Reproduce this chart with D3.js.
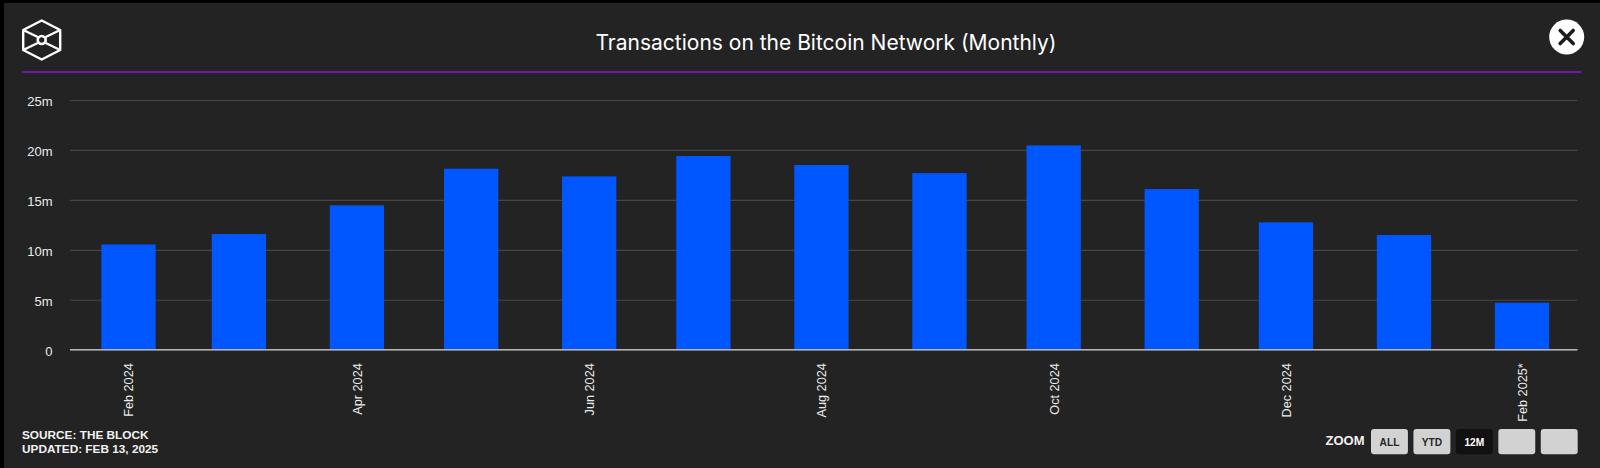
<!DOCTYPE html>
<html>
<head>
<meta charset="utf-8">
<title>Transactions on the Bitcoin Network (Monthly)</title>
<script src="https://cdn.jsdelivr.net/npm/d3@7"></script>
<style>
    html, body { margin: 0; padding: 0; background: #000; }
    svg { display: block; }
    .axisText { font-family: "Liberation Sans", Arial, sans-serif; fill: #ececec; }
    .footText { font-family: "Liberation Sans", Arial, sans-serif; font-weight: bold; }
</style>
</head>
<body>
<div id="chart"></div>
<script>
// values, in millions of transactions
const months = ['2024-02-01', '2024-03-01', '2024-04-01', '2024-05-01', '2024-06-01', '2024-07-01', '2024-08-01',
    '2024-09-01', '2024-10-01', '2024-11-01', '2024-12-01', '2025-01-01', '2025-02-01'];
const transactions = [10.54, 11.58, 14.45, 18.12, 17.35, 19.39, 18.49, 17.68, 20.45, 16.08, 12.75, 11.48, 4.70];

const xTickMonths = ['2024-02-01', '2024-04-01', '2024-06-01', '2024-08-01', '2024-10-01', '2024-12-01', '2025-02-01'];
const xTickLabels = ['Feb 2024', 'Apr 2024', 'Jun 2024', 'Aug 2024', 'Oct 2024', 'Dec 2024', 'Feb 2025*'];
const yTicks = [0, 5, 10, 15, 20, 25];
const yTickLabels = ['0', '5m', '10m', '15m', '20m', '25m'];

const zoomButtons = ['ALL', 'YTD', '12M', '', ''];
const activeZoom = '12M';
const sourceLines = ['SOURCE: THE BLOCK', 'UPDATED: FEB 13, 2025'];

const width = 1600;
const height = 468;
const plot = {left: 70, right: 1577.5, top: 100, bottom: 349.7};
const barWidth = 54.3;

const parseMonth = d3.utcParse('%Y-%m-%d');

const svg = d3.select('#chart').append('svg')
    .attr('width', width)
    .attr('height', height);

// black edge on the top and left of the screenshot, panel on top of it
svg.append('rect').attr('width', width).attr('height', height).attr('fill', '#000');
svg.append('rect').attr('x', 4).attr('y', 3).attr('width', width - 4).attr('height', height - 3).attr('fill', '#232323');

// Time scale, months have different lengths so the bars are not evenly spaced
const xScale = d3.scaleUtc()
    .domain([parseMonth(months[0]), parseMonth(months[months.length - 1])])
    .range([128.5, 1522]);

const yScale = d3.scaleLinear()
    .domain([0, 25])
    .range([plot.bottom, plot.top]);

const yAxis = d3.axisLeft(yScale)
    .tickValues(yTicks)
    .tickSize(plot.left - plot.right)
    .tickPadding(17.5)
    .tickFormat((d, i) => yTickLabels[i]);

const yGroup = svg.append('g')
    .attr('transform', `translate(${plot.left},0)`)
    .call(yAxis);
yGroup.select('.domain').remove();
yGroup.selectAll('.tick line')
    .attr('stroke', '#464646')
    .attr('stroke-width', 1.2);
yGroup.selectAll('.tick text')
    .attr('class', 'axisText')
    .attr('dy', '0.42em')
    .style('font-size', '13px');

svg.selectAll('.bar')
    .data(months)
    .enter()
    .append('rect')
    .attr('class', 'bar')
    .attr('x', d => xScale(parseMonth(d)) - barWidth / 2)
    .attr('width', barWidth)
    .attr('y', (d, i) => yScale(transactions[i]))
    .attr('height', (d, i) => yScale(0) - yScale(transactions[i]))
    .attr('fill', '#0057ff');

const xAxis = d3.axisBottom(xScale)
    .tickValues(xTickMonths.map(parseMonth))
    .tickSize(0)
    .tickFormat((d, i) => xTickLabels[i]);

const xGroup = svg.append('g')
    .attr('transform', `translate(0,${plot.bottom})`)
    .call(xAxis);
xGroup.select('.domain')
    .attr('d', `M${plot.left},0H${plot.right}`)
    .attr('stroke', '#b4b4b4')
    .attr('stroke-width', 1.4);
xGroup.selectAll('.tick text')
    .attr('class', 'axisText')
    .attr('transform', 'rotate(-90)')
    .attr('text-anchor', 'end')
    .attr('x', -13.5)
    .attr('y', 0)
    .attr('dy', '0.35em')
    .style('font-size', '12.7px');

// Header
svg.append('text')
    .attr('x', 826)
    .attr('y', 49.5)
    .attr('text-anchor', 'middle')
    .attr('fill', '#fff')
    .style('font-family', 'Inter, sans-serif')
    .style('font-weight', 400)
    .style('font-size', '21px')
    .text('Transactions on the Bitcoin Network (Monthly)');

svg.append('line')
    .attr('x1', 22).attr('x2', 1581.5)
    .attr('y1', 72).attr('y2', 72)
    .attr('stroke', '#8e12d8')
    .attr('stroke-width', 1.6);

// Logo
const logo = svg.append('g')
    .attr('transform', 'translate(41.7,40)')
    .attr('fill', 'none')
    .attr('stroke', '#fff')
    .attr('stroke-width', 2.4)
    .attr('stroke-linejoin', 'round');
logo.append('path').attr('d', 'M0,-19.5L18.5,-10V10L0,19.5L-18.5,10V-10Z');
logo.append('path').attr('d', 'M-18.5,-10L-4,-3M18.5,-10L4,-3M-18.5,10L-4,3M18.5,10L4,3');
logo.append('circle').attr('r', 4).attr('stroke-width', 2.6);

// Close button
const close = svg.append('g').attr('transform', 'translate(1566.7,37)');
close.append('circle').attr('r', 17.5).attr('fill', '#fff');
close.append('path')
    .attr('d', 'M-6.5,-6.5L6.5,6.5M6.5,-6.5L-6.5,6.5')
    .attr('stroke', '#1c1c1c')
    .attr('stroke-width', 3.6)
    .attr('stroke-linecap', 'round');

// Footer
svg.selectAll('.sourceLine')
    .data(sourceLines)
    .enter()
    .append('text')
    .attr('class', 'sourceLine footText')
    .attr('x', 22)
    .attr('y', (d, i) => 439 + i * 14)
    .attr('fill', '#f2f2f2')
    .style('font-size', '11.8px')
    .text(d => d);

svg.append('text')
    .attr('class', 'footText')
    .attr('x', 1364.5)
    .attr('y', 445)
    .attr('text-anchor', 'end')
    .attr('fill', '#f2f2f2')
    .style('font-size', '13px')
    .text('ZOOM');

const buttonX = d3.scaleBand()
    .domain(d3.range(zoomButtons.length))
    .range([1371, 1577.7])
    .paddingInner(0.13);

const buttons = svg.selectAll('.zoomButton')
    .data(zoomButtons)
    .enter()
    .append('g')
    .attr('class', 'zoomButton')
    .attr('transform', (d, i) => `translate(${buttonX(i)},429)`);
buttons.append('rect')
    .attr('width', buttonX.bandwidth())
    .attr('height', 25.3)
    .attr('rx', 3)
    .attr('fill', d => d === activeZoom ? '#111' : '#d2d2d2');
buttons.append('text')
    .attr('class', 'footText')
    .attr('x', buttonX.bandwidth() / 2)
    .attr('y', 17)
    .attr('text-anchor', 'middle')
    .attr('fill', d => d === activeZoom ? '#fff' : '#262626')
    .style('font-size', '10.2px')
    .text(d => d);
</script>
</body>
</html>
